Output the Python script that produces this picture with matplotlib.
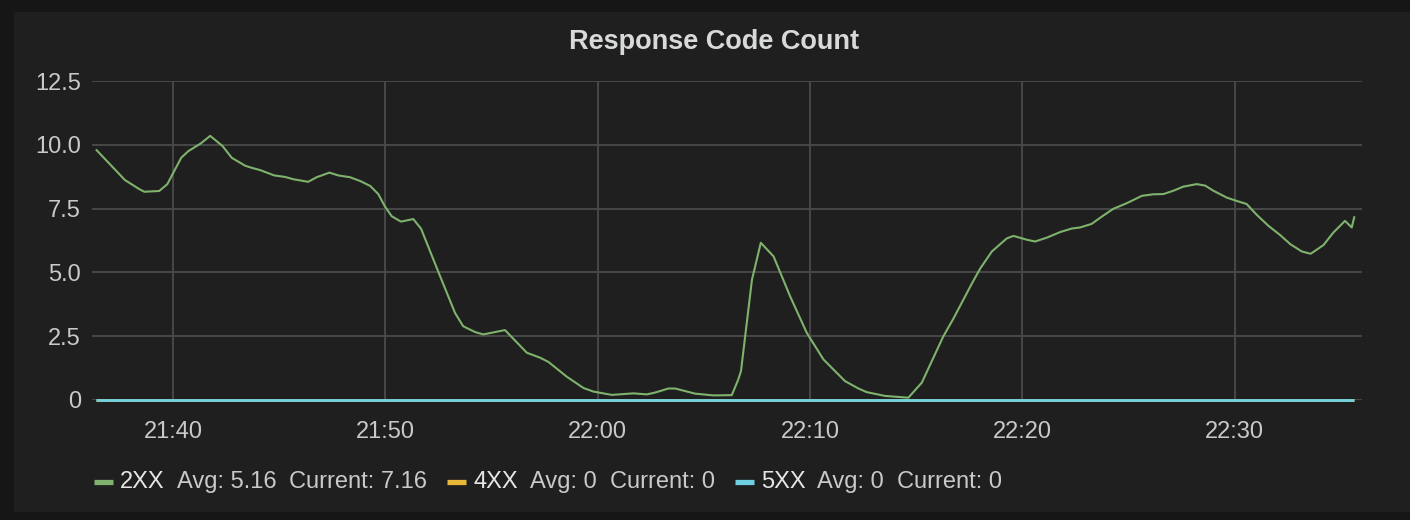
import matplotlib
matplotlib.use("Agg")
import matplotlib.pyplot as plt
import matplotlib.dates as mdates
import pandas as pd
from matplotlib.patches import Rectangle
from matplotlib.lines import Line2D

# ---------------- data ----------------
title = "Response Code Count"
series_names = ["2XX", "4XX", "5XX"]
series_colors = ["#7eb26d", "#eab839", "#6ed0e0"]
avg_labels = ["5.16", "0", "0"]
current_labels = ["7.16", "0", "0"]

times_2xx = [
    "21:36:24", "21:37:44", "21:38:25", "21:38:39", "21:39:21", "21:39:44",
    "21:40:23", "21:40:43", "21:41:18", "21:41:45", "21:42:20", "21:42:46",
    "21:43:24", "21:43:42", "21:44:06", "21:44:46", "21:45:17", "21:45:40",
    "21:46:22", "21:46:46", "21:47:22", "21:47:47", "21:48:20", "21:48:49",
    "21:49:17", "21:49:40", "21:49:59", "21:50:18", "21:50:44", "21:51:19",
    "21:51:41", "21:52:35", "21:53:17", "21:53:40", "21:54:14", "21:54:37",
    "21:55:38", "21:56:40", "21:57:17", "21:57:41", "21:58:33", "21:59:20",
    "21:59:48", "22:00:40", "22:01:41", "22:02:19", "22:02:42", "22:03:20",
    "22:03:39", "22:04:35", "22:05:27", "22:06:19", "22:06:37", "22:06:45",
    "22:07:16", "22:07:41", "22:08:17", "22:09:04", "22:09:51", "22:10:38",
    "22:11:39", "22:12:17", "22:12:40", "22:13:32", "22:14:38", "22:15:16",
    "22:16:17", "22:16:45", "22:17:37", "22:18:01", "22:18:34", "22:19:16",
    "22:19:35", "22:20:13", "22:20:36", "22:21:09", "22:21:47", "22:22:20",
    "22:22:43", "22:23:16", "22:23:45", "22:24:17", "22:24:55", "22:25:38",
    "22:26:10", "22:26:39", "22:27:07", "22:27:35", "22:28:13", "22:28:37",
    "22:29:00", "22:29:38", "22:30:06", "22:30:34", "22:31:03", "22:31:36",
    "22:32:09", "22:32:37", "22:33:10", "22:33:35", "22:34:11", "22:34:39",
    "22:35:12", "22:35:31", "22:35:38",
]
values_2xx = [
    9.79, 8.62, 8.26, 8.16, 8.19, 8.46,
    9.49, 9.75, 10.05, 10.35, 9.95, 9.49,
    9.18, 9.10, 9.01, 8.80, 8.74, 8.65,
    8.55, 8.73, 8.91, 8.80, 8.73, 8.58,
    8.39, 8.07, 7.58, 7.20, 6.99, 7.09,
    6.71, 4.84, 3.41, 2.89, 2.66, 2.57,
    2.74, 1.85, 1.66, 1.49, 0.91, 0.47,
    0.33, 0.20, 0.26, 0.22, 0.29, 0.45,
    0.45, 0.25, 0.18, 0.19, 0.79, 1.13,
    4.71, 6.16, 5.63, 4.06, 2.63, 1.59,
    0.74, 0.45, 0.31, 0.16, 0.09, 0.68,
    2.50, 3.18, 4.55, 5.15, 5.82, 6.33,
    6.43, 6.28, 6.21, 6.36, 6.58, 6.72,
    6.76, 6.90, 7.19, 7.49, 7.71, 8.00,
    8.06, 8.07, 8.20, 8.36, 8.46, 8.40,
    8.20, 7.93, 7.80, 7.68, 7.25, 6.82,
    6.46, 6.11, 5.82, 5.73, 6.07, 6.56,
    7.02, 6.76, 7.16,
]
times_4xx = ["21:36:22", "22:35:38"]
values_4xx = [0, 0]
times_5xx = ["21:36:22", "22:35:38"]
values_5xx = [0, 0]

x_start = "21:36:11"
x_end = "22:36:00"
y_ticks = [0, 2.5, 5.0, 7.5, 10.0, 12.5]
y_tick_labels = ["0", "2.5", "5.0", "7.5", "10.0", "12.5"]


def to_dt(ts):
    return pd.to_datetime(["2017-01-01 " + t for t in ts])


# ---------------- figure ----------------
W, H = 1410, 520
FONT = "Liberation Sans"
plt.rcParams["font.family"] = [FONT, "DejaVu Sans"]

fig = plt.figure(figsize=(W / 100, H / 100), dpi=100)
fig.patch.set_facecolor("#161616")
fig.patches.append(Rectangle((14 / W, 8 / H), 1 - 14 / W, 1 - 20 / H,
                             transform=fig.transFigure, facecolor="#1f1f1f",
                             edgecolor="none", zorder=-10))

ax = fig.add_axes([92 / W, 1 - 400 / H, (1362 - 92) / W, (400 - 81) / H])
ax.set_facecolor("none")
ax.set_zorder(5)

ax.plot(to_dt(times_2xx), values_2xx, color=series_colors[0], lw=1.5, zorder=3)
ax.plot(to_dt(times_4xx), values_4xx, color=series_colors[1], lw=2.0, zorder=4,
        clip_on=False, solid_capstyle="butt")
ax.plot(to_dt(times_5xx), values_5xx, color=series_colors[2], lw=2.0, zorder=5,
        clip_on=False, solid_capstyle="butt")

ax.set_xlim(to_dt([x_start])[0], to_dt([x_end])[0])
ax.set_ylim(0, 12.5)
ax.set_yticks(y_ticks)
ax.set_yticklabels(y_tick_labels)
ax.xaxis.set_major_locator(mdates.MinuteLocator(byminute=[0, 10, 20, 30, 40, 50]))
ax.xaxis.set_major_formatter(mdates.DateFormatter("%H:%M"))

ax.set_axisbelow(True)
ax.grid(True, color="#484848", lw=1.4)
for s in ax.spines.values():
    s.set_visible(False)
ax.tick_params(axis="both", length=0, labelsize=17, colors="#c8c9ca")
ax.tick_params(axis="y", pad=8)
ax.tick_params(axis="x", pad=15)

fig.text(714 / W, 1 - 42 / H, title, ha="center", va="center",
         fontsize=19.5, fontweight="bold", color="#d8d9da")

# ---------------- legend ----------------
renderer = fig.canvas.get_renderer()
x = 94
y = 1 - 482 / H
for name, col, avg, cur in zip(series_names, series_colors, avg_labels, current_labels):
    fig.lines.append(Line2D([x / W, (x + 19) / W], [y, y], transform=fig.transFigure,
                            color=col, lw=3.8, solid_capstyle="butt"))
    x += 19 + 7
    for txt, color, gap in ((name, "#e6e6e6", 12),
                            ("Avg: " + avg, "#c8c9ca", 13),
                            ("Current: " + cur, "#c8c9ca", 20)):
        t = fig.text(x / W, y, txt, ha="left", va="center", fontsize=17, color=color)
        w = t.get_window_extent(renderer).width
        x += w + gap

fig.savefig("out.png", dpi=100, facecolor=fig.get_facecolor())
